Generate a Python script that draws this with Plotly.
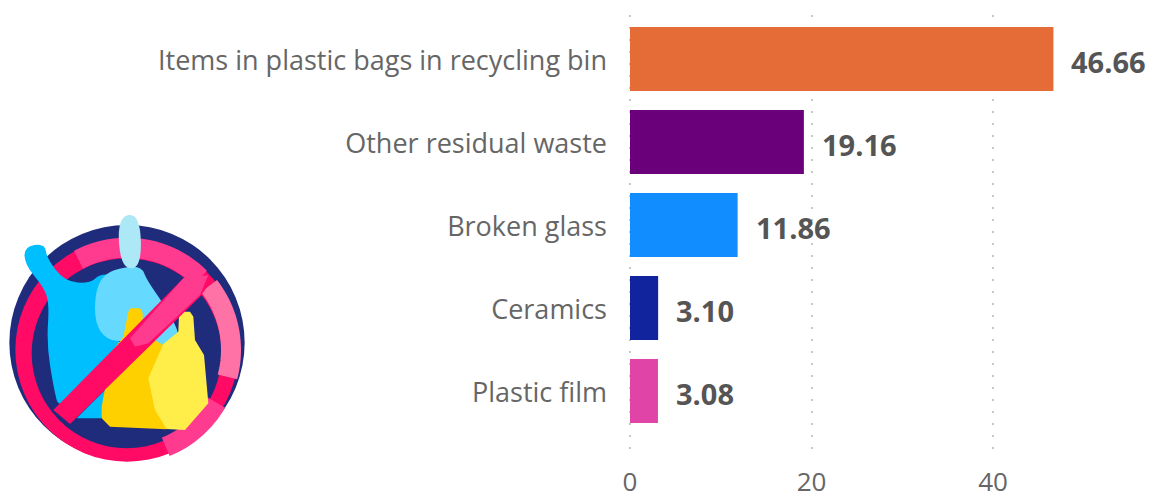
import math
import plotly.graph_objects as go

categories = ["Items in plastic bags in recycling bin", "Other residual waste", "Broken glass", "Ceramics", "Plastic film"]
values = [46.66, 19.16, 11.86, 3.10, 3.08]
value_labels = ["46.66", "19.16", "11.86", "3.10", "3.08"]
colors = ["#E66C37", "#6B007B", "#118DFF", "#12239E", "#E044A7"]
x_ticks = [0, 20, 40]

W, H = 1153, 500
FONT = "Open Sans"

fig = go.Figure(go.Bar(
    x=values, y=categories, orientation="h", marker=dict(color=colors, line=dict(width=0)),
    width=0.77, hoverinfo="skip",
))

for c, v, t in zip(categories, values, value_labels):
    fig.add_annotation(x=v, y=c, text=f"<b>{t}</b>", showarrow=False, xanchor="left", yanchor="middle",
                       xshift=16, yshift=-3, font=dict(family=FONT, size=29, color="#555555"))


def to_paper(x, y):
    """icon points measured in a 3x crop whose origin is (0,200)"""
    return x/3/W, 1-(y/3+200)/H


def smooth(pts):
    n = len(pts)
    mid = [((pts[i][0]+pts[(i+1) % n][0])/2, (pts[i][1]+pts[(i+1) % n][1])/2) for i in range(n)]
    s = "M{:.5f},{:.5f}".format(*to_paper(*mid[-1]))
    for i in range(n):
        s += " Q{:.5f},{:.5f} {:.5f},{:.5f}".format(*to_paper(*pts[i]), *to_paper(*mid[i]))
    return s + " Z"


def sharp(pts, close=True):
    s = " ".join(("M" if i == 0 else "L") + "{:.5f},{:.5f}".format(*to_paper(*p)) for i, p in enumerate(pts))
    return s + (" Z" if close else "")


def circ(cx, cy, r, color):
    x0, y1 = to_paper(cx-r, cy-r)
    x1, y0 = to_paper(cx+r, cy+r)
    return dict(type="circle", xref="paper", yref="paper", x0=x0, x1=x1, y0=y0, y1=y1,
                fillcolor=color, line=dict(width=0), layer="above")


def blob(pts, color):
    return dict(type="path", xref="paper", yref="paper", path=smooth(pts), fillcolor=color, line=dict(width=0), layer="above")


def poly(pts, color):
    return dict(type="path", xref="paper", yref="paper", path=sharp(pts), fillcolor=color, line=dict(width=0), layer="above")


def stroke(pts, color, w):
    return dict(type="path", xref="paper", yref="paper", path=sharp(pts, False), line=dict(color=color, width=w), layer="above")


def arc(cx, cy, r, a0, a1, n=24):
    return [(cx + r*math.cos(math.radians(a0+(a1-a0)*i/n)), cy + r*math.sin(math.radians(a0+(a1-a0)*i/n))) for i in range(n+1)]


NAVY, PINK = "#1F2C7C", "#FF0A64"
shapes = [
    circ(381, 428, 353, NAVY),
    circ(381, 450, 335, PINK),
    circ(380, 460, 285, NAVY),
    # ring highlights
    stroke(arc(381, 453, 310, -118, -45), "#FF3B90", 20),
    stroke(arc(381, 453, 310, 30, 68), "#FF3B90", 20),
    stroke(arc(381, 450, 312, -38, 15), "#FF72A6", 20),
    # bag
    blob([(72, 140), (135, 130), (140, 175), (195, 245), (270, 250), (300, 222), (345, 225), (345, 430),
          (385, 430), (180, 640), (160, 560), (140, 430), (148, 310), (130, 260), (75, 195)], "#00BFFF"),
    poly([(230, 655), (305, 655), (315, 570)], "#00BFFF"),
    # light bottle
    blob([(310, 222), (375, 200), (425, 200), (440, 240), (490, 310), (545, 410), (510, 440), (450, 437), (380, 425),
          (320, 420), (285, 370), (285, 280)], "#66D9FF"),
    blob([(352, 50), (420, 40), (425, 205), (362, 205)], "#ADE8F7"),
    # yellow bottles
    poly([(385, 335), (392, 325), (420, 325), (428, 340), (428, 400), (490, 435), (500, 688), (330, 680), (305, 655), (305, 620),
          (335, 455), (370, 410)], "#FFD000"),
    poly([(537, 345), (545, 335), (570, 335), (580, 350), (585, 420), (612, 465), (625, 610), (555, 690), (500, 687), (465, 630),
          (445, 535), (490, 432), (535, 395)], "#FFEE4A"),
    # slash
    poly([(550, 235), (640, 235), (600, 290), (210, 672), (160, 630)], PINK),
    poly([(550, 235), (625, 225), (600, 285), (445, 430), (405, 440), (390, 415)], "#FF3B90"),
]

SCALE = 9.075  # px per x unit
fig.update_layout(
    width=W, height=H, autosize=False,
    margin=dict(l=0, r=0, t=0, b=0, autoexpand=False), paper_bgcolor="white", plot_bgcolor="white",
    showlegend=False, shapes=shapes,
    font=dict(family=FONT, color="#666666", size=25),
    xaxis=dict(domain=[628/W, 1150/W], range=[-2/SCALE, 520/SCALE], tickvals=x_ticks, showgrid=True, gridcolor="#C8C8C8",
               griddash="2px,10px", gridwidth=2, zeroline=False, showline=False, ticks="", ticklabelstandoff=5,
               tickfont=dict(family=FONT, size=26, color="#666666"), anchor="y", fixedrange=True, automargin=False),
    yaxis=dict(domain=[1-459/H, 1-15/H], range=[4.82, -0.53], type="category", categoryorder="array",
               categoryarray=categories, showgrid=False, zeroline=False, showline=False, ticks="", ticklabelstandoff=20,
               ticklabelshift=-2,
               tickfont=dict(family=FONT, size=27, color="#666666"), anchor="x", fixedrange=True, automargin=False),
)
fig.write_html("out.html", config=dict(displayModeBar=False),
               post_script="document.body.style.margin='0';")
